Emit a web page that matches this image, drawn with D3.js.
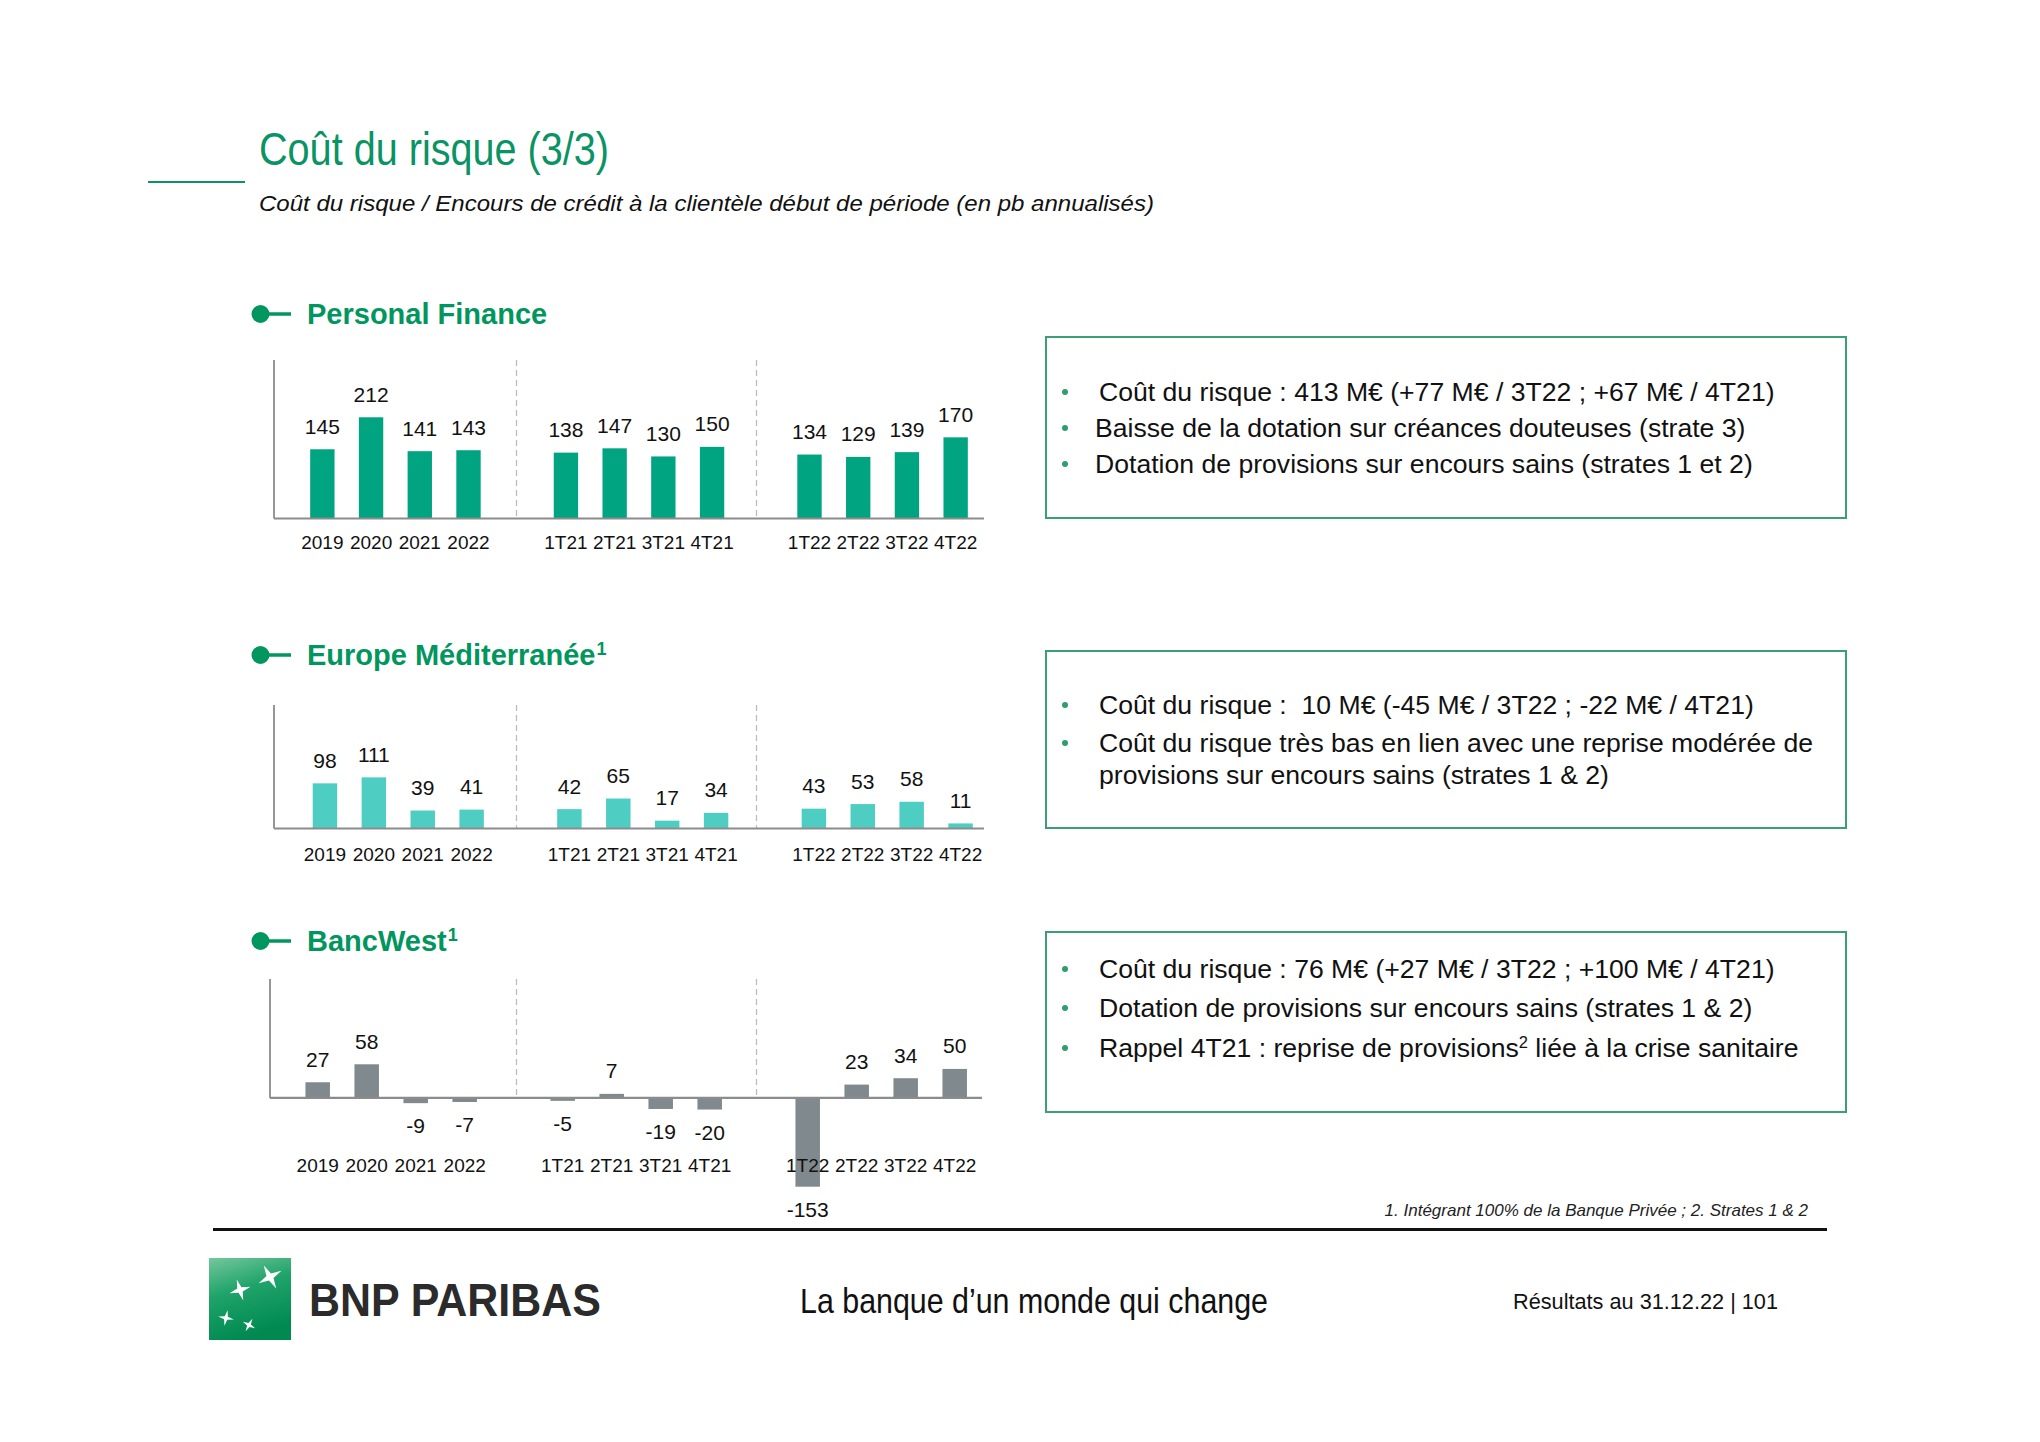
<!DOCTYPE html>
<html><head><meta charset="utf-8">
<script src="https://cdn.jsdelivr.net/npm/d3@7"></script>
<style>
html,body{margin:0;padding:0;background:#fff;}
svg{display:block;}
text{font-family:"Liberation Sans",Arial,sans-serif;white-space:pre;}
</style></head>
<body>
<svg id="chart" width="2040" height="1442"></svg>
<script>
// ---------- DATA ----------
const categories = ["2019","2020","2021","2022","1T21","2T21","3T21","4T21","1T22","2T22","3T22","4T22"];
const groupEnds = ["2022","4T21"];
const personalFinance = [145,212,141,143,138,147,130,150,134,129,139,170];
const europeMediterranee = [98,111,39,41,42,65,17,34,43,53,58,11];
const bancWest = [27,58,-9,-7,-5,7,-19,-20,-153,23,34,50];
const panelNames = ["Personal Finance","Europe Méditerranée","BancWest"];
const panelNoteMarks = ["","1","1"];
const pfComments = ["Coût du risque : 413 M€ (+77 M€ / 3T22 ; +67 M€ / 4T21)","Baisse de la dotation sur créances douteuses (strate 3)","Dotation de provisions sur encours sains (strates 1 et 2)"];
const emComments = ["Coût du risque :  10 M€ (-45 M€ / 3T22 ; -22 M€ / 4T21)","Coût du risque très bas en lien avec une reprise modérée de","provisions sur encours sains (strates 1 & 2)"];
const emBullets = [true,true,false];
const bwComments = ["Coût du risque : 76 M€ (+27 M€ / 3T22 ; +100 M€ / 4T21)","Dotation de provisions sur encours sains (strates 1 & 2)","Rappel 4T21 : reprise de provisions² liée à la crise sanitaire"];
const titleText = "Coût du risque (3/3)";
const subtitleText = "Coût du risque / Encours de crédit à la clientèle début de période (en pb annualisés)";
const footnoteText = "1. Intégrant 100% de la Banque Privée ; 2. Strates 1 & 2";
const sloganText = "La banque d’un monde qui change";
const pageText = "Résultats au 31.12.22 | 101";

// ---------- LAYOUT ----------
const GREEN = "#0A9364";
const svg = d3.select("#chart");

const slots = [];
categories.forEach(c => { slots.push(c); if (groupEnds.includes(c)) slots.push("gap:" + c); });
const separatorX = [516.5, 756.5];

const panels = [
  {values: personalFinance, color: "#00A480", xRange: [298, 980], axisX: 274, axisEnd: 984,
   yDomain: [0, 332], yRange: [518.5, 360], catY: 548.5, headCY: 314, headBase: 323.5,
   comments: pfComments, bullets: [true,true,true], lineX: [1099, 1095, 1095],
   box: [1046, 337, 800, 181], lineY: [401, 437, 473]},
  {values: europeMediterranee, color: "#4ECDC3", xRange: [300.5, 985], axisX: 274, axisEnd: 984,
   yDomain: [0, 268], yRange: [828.5, 705], catY: 860.5, headCY: 655, headBase: 664.5,
   comments: emComments, bullets: emBullets, lineX: [1099, 1099, 1099],
   box: [1046, 651, 800, 177], lineY: [714, 752, 784]},
  {values: bancWest, color: "#7F898E", xRange: [293.2, 979.2], axisX: 270, axisEnd: 982,
   yDomain: [-153, 205], yRange: [1186.7, 979], catY: 1171.5, headCY: 941, headBase: 951,
   comments: bwComments, bullets: [true,true,true], lineX: [1099, 1099, 1099],
   box: [1046, 932, 800, 180], lineY: [978, 1017, 1057]}
];

// Title block
svg.append("line").attr("x1", 148).attr("x2", 245).attr("y1", 182).attr("y2", 182)
  .attr("stroke", GREEN).attr("stroke-width", 2);
svg.append("text").attr("x", 259).attr("y", 165).text(titleText)
  .style("font-family", "'Liberation Sans Narrow','Arial Narrow','Liberation Sans',sans-serif")
  .attr("font-size", 47).attr("fill", GREEN).attr("textLength", 350).attr("lengthAdjust", "spacingAndGlyphs");
svg.append("text").attr("x", 259).attr("y", 210.5).text(subtitleText)
  .attr("font-size", 21.5).attr("font-style", "italic").attr("fill", "#111")
  .attr("textLength", 895).attr("lengthAdjust", "spacingAndGlyphs");

function addSuperLine(sel, str) {
  const parts = str.split(/(²|¹)/);
  parts.forEach(pt => {
    if (pt === "²" || pt === "¹") {
      sel.append("tspan").attr("font-size", "62%").attr("baseline-shift", "super").text(pt === "²" ? "2" : "1");
    } else if (pt.length) {
      sel.append("tspan").text(pt);
    }
  });
}

panels.forEach((p, pi) => {
  const g = svg.append("g");
  const x = d3.scaleBand().domain(slots).range(p.xRange).paddingInner(0.5).paddingOuter(0.25);
  const y = d3.scaleLinear().domain(p.yDomain).range(p.yRange);
  const bw = x.bandwidth();
  const data = categories.map((c, i) => ({c, v: p.values[i]}));

  // header
  g.append("line").attr("x1", 260).attr("x2", 291).attr("y1", p.headCY).attr("y2", p.headCY)
    .attr("stroke", "#00965E").attr("stroke-width", 3.5);
  g.append("circle").attr("cx", 260.5).attr("cy", p.headCY).attr("r", 9).attr("fill", "#00965E");
  const ht = g.append("text").attr("x", 307).attr("y", p.headBase)
    .attr("font-size", 29).attr("font-weight", "bold").attr("fill", "#00965E");
  ht.append("tspan").text(panelNames[pi]);
  if (panelNoteMarks[pi]) ht.append("tspan").attr("font-size", "62%").attr("baseline-shift", "super").attr("dx", 1).text(panelNoteMarks[pi]);

  // separators
  g.selectAll(".sep").data(separatorX).join("line")
    .attr("x1", d => d).attr("x2", d => d)
    .attr("y1", p.yRange[1]).attr("y2", y(0))
    .attr("stroke", "#BDBDBD").attr("stroke-width", 1.3).attr("stroke-dasharray", "6,4");

  // bars
  g.selectAll(".bar").data(data).join("rect")
    .attr("x", d => x(d.c)).attr("width", bw)
    .attr("y", d => y(Math.max(0, d.v)))
    .attr("height", d => Math.abs(y(d.v) - y(0)))
    .attr("fill", p.color);

  // axes lines
  g.append("line").attr("x1", p.axisX).attr("x2", p.axisX).attr("y1", p.yRange[1]).attr("y2", y(0))
    .attr("stroke", "#8C8C8C").attr("stroke-width", 1.8);
  g.append("line").attr("x1", p.axisX).attr("x2", p.axisEnd).attr("y1", y(0)).attr("y2", y(0))
    .attr("stroke", "#8C8C8C").attr("stroke-width", 2.2);

  // category axis
  const ax = g.append("g").attr("transform", `translate(0,${p.catY})`)
    .call(d3.axisBottom(x).tickSize(0).tickFormat(s => s.startsWith("gap:") ? "" : s));
  ax.select(".domain").remove();
  ax.selectAll("text").attr("y", 0).attr("dy", 0)
    .style("font-family", "'Liberation Sans',Arial,sans-serif").attr("font-size", 19).attr("fill", "#111");

  // value labels
  g.selectAll(".val").data(data).join("text")
    .attr("x", d => x(d.c) + bw / 2)
    .attr("y", d => d.v >= 0 ? y(d.v) - 15.5 : y(d.v) + 30)
    .attr("text-anchor", "middle").attr("font-size", 21).attr("fill", "#111")
    .text(d => d.v);

  // comment box
  const [bx, by, bwid, bh] = p.box;
  svg.append("rect").attr("x", bx).attr("y", by).attr("width", bwid).attr("height", bh)
    .attr("fill", "none").attr("stroke", "#3A9F74").attr("stroke-width", 2);
  p.comments.forEach((line, li) => {
    if (p.bullets[li]) {
      svg.append("circle").attr("cx", 1065).attr("cy", p.lineY[li] - 9).attr("r", 3).attr("fill", "#2E9E6E");
    }
    const t = svg.append("text").attr("x", p.lineX[li]).attr("y", p.lineY[li])
      .attr("font-size", 26.6).attr("fill", "#111");
    addSuperLine(t, line);
  });
});

// footnote & rule
svg.append("text").attr("x", 1808).attr("y", 1216).attr("text-anchor", "end")
  .attr("font-size", 17).attr("font-style", "italic").attr("fill", "#222").text(footnoteText);
svg.append("line").attr("x1", 213).attr("x2", 1827).attr("y1", 1229.5).attr("y2", 1229.5)
  .attr("stroke", "#111").attr("stroke-width", 3);

// logo
const defs = svg.append("defs");
const lg = defs.append("linearGradient").attr("id", "lg").attr("x1", 0).attr("y1", 0).attr("x2", 0.3).attr("y2", 1);
lg.append("stop").attr("offset", "0%").attr("stop-color", "#74C79B");
lg.append("stop").attr("offset", "45%").attr("stop-color", "#1FA36A");
lg.append("stop").attr("offset", "100%").attr("stop-color", "#008A52");
svg.append("rect").attr("x", 209).attr("y", 1258).attr("width", 82).attr("height", 82).attr("fill", "url(#lg)");
function star(cx, cy, r, rot) {
  const pts = [];
  for (let i = 0; i < 8; i++) {
    const a = rot + i * Math.PI / 4;
    const rr = i % 2 === 0 ? r : r * 0.28;
    pts.push([cx + rr * Math.cos(a), cy + rr * Math.sin(a)]);
  }
  return "M" + pts.map(q => q.join(",")).join("L") + "Z";
}
[[270, 1277, 13, -0.5], [240, 1290, 11, -0.3], [226, 1318, 8, 0.2], [249, 1325, 7, 0.5]].forEach(s => {
  svg.append("path").attr("d", star(s[0], s[1], s[2], s[3])).attr("fill", "#fff");
});
svg.append("text").attr("x", 309).attr("y", 1316).text("BNP PARIBAS")
  .style("font-family", "'Liberation Sans Narrow','Arial Narrow','Liberation Sans',sans-serif")
  .attr("font-size", 46).attr("font-weight", "bold").attr("fill", "#2b2b2b")
  .attr("textLength", 292).attr("lengthAdjust", "spacingAndGlyphs");
svg.append("text").attr("x", 800).attr("y", 1313).text(sloganText)
  .style("font-family", "'Liberation Sans Narrow','Arial Narrow','Liberation Sans',sans-serif")
  .attr("font-size", 35).attr("fill", "#111").attr("textLength", 468).attr("lengthAdjust", "spacingAndGlyphs");
svg.append("text").attr("x", 1513).attr("y", 1309).text(pageText)
  .attr("font-size", 22).attr("fill", "#111").attr("textLength", 265).attr("lengthAdjust", "spacingAndGlyphs");
</script>
</body></html>
